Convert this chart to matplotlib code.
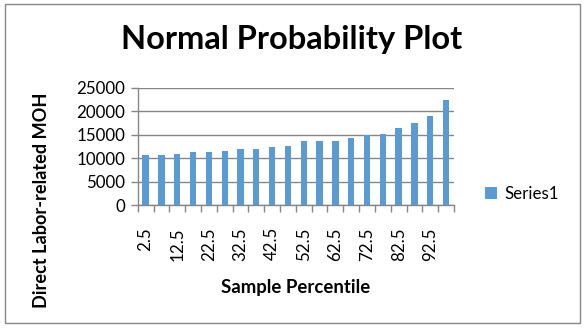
import matplotlib
matplotlib.use("Agg")
import matplotlib.pyplot as plt
from matplotlib.patches import Rectangle
import numpy as np

plt.rcParams['font.family'] = ['Lato', 'DejaVu Sans']

# Sample percentiles (category labels) and the sorted MOH values
percentiles = [2.5, 7.5, 12.5, 17.5, 22.5, 27.5, 32.5, 37.5, 42.5, 47.5,
               52.5, 57.5, 62.5, 67.5, 72.5, 77.5, 82.5, 87.5, 92.5, 97.5]
moh_values = [10700, 10700, 10900, 11300, 11300, 11500, 11900, 11900, 12400, 12600,
              13600, 13600, 13600, 14300, 15000, 15100, 16400, 17500, 19000, 22400]
series_name = "Series1"
y_ticks = [0, 5000, 10000, 15000, 20000, 25000]

W, H = 586, 329
fig = plt.figure(figsize=(W / 100, H / 100), dpi=100)
fig.patch.set_facecolor("white")

left, right, top, bottom = 137.7, 454.0, 87.7, 205.0
ax = fig.add_axes([left / W, 1 - bottom / H, (right - left) / W, (bottom - top) / H])

grey = "#868686"
bar_color = "#5B9BD5"
x = np.arange(len(percentiles))
bars = ax.bar(x, moh_values, width=0.4, color=bar_color, label=series_name, zorder=3)

ax.set_xlim(-0.5, len(percentiles) - 0.5)
ax.set_ylim(0, 25000)
ax.set_yticks(y_ticks)
ax.set_yticklabels([str(v) for v in y_ticks], fontsize=12.2)
ax.yaxis.grid(True, color=grey, linewidth=1, zorder=0)

# category labels on every other bar, tick marks on category boundaries
ax.set_xticks(x[::2])
ax.set_xticklabels([str(p) for p in percentiles[::2]], rotation=90, fontsize=12.2, va="top")
ax.tick_params(axis="x", which="major", length=0, pad=16)
ax.set_xticks(np.arange(-0.5, len(percentiles)), minor=True)
ax.tick_params(axis="x", which="minor", length=5, color=grey, width=1)
ax.tick_params(axis="y", length=5, color=grey, width=1, pad=4)

for side in ("top", "right"):
    ax.spines[side].set_visible(False)
for side in ("left", "bottom"):
    ax.spines[side].set_color(grey)
    ax.spines[side].set_linewidth(1)

fig.text(292 / W, 1 - 40 / H, "Normal Probability Plot", ha="center", va="center",
         fontsize=23.5, fontweight="bold")
fig.text(295.5 / W, 1 - 288 / H, "Sample Percentile", ha="center", va="center",
         fontsize=13.4, fontweight="bold")
fig.text(42 / W, 1 - 200 / H, "Direct Labor-related MOH", ha="center", va="center",
         rotation=90, fontsize=13.1, fontweight="bold")

fig.legend(handles=[bars], loc="center left", bbox_to_anchor=(478 / W, 1 - 194 / H),
           frameon=False, fontsize=12.2, handlelength=0.75, handleheight=0.75,
           handletextpad=0.4, borderaxespad=0)

fig.add_artist(Rectangle((4.5 / W, 1 - 323 / H), 575.5 / W, 319 / H, transform=fig.transFigure,
                         fill=False, edgecolor=grey, linewidth=1))

fig.savefig("out.png", dpi=100, facecolor="white")
